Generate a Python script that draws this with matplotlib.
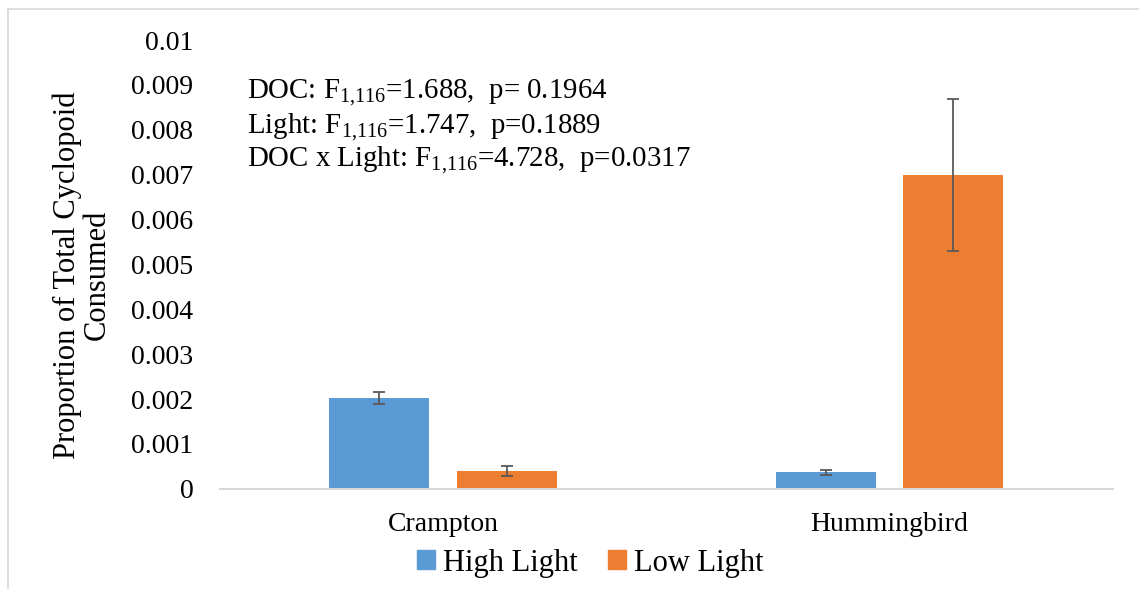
import matplotlib
matplotlib.use("Agg")
import matplotlib.pyplot as plt
from matplotlib.lines import Line2D
from matplotlib.patches import Patch
import numpy as np

categories = ["Crampton", "Hummingbird"]
series_names = ["High Light", "Low Light"]
high_light = [0.00203, 0.00037]
high_light_err = [0.00013, 0.00005]
low_light = [0.00040, 0.00699]
low_light_err = [0.00011, 0.00170]
yticks = [0, 0.001, 0.002, 0.003, 0.004, 0.005, 0.006, 0.007, 0.008, 0.009, 0.01]
ytick_labels = ["0", "0.001", "0.002", "0.003", "0.004", "0.005", "0.006", "0.007", "0.008", "0.009", "0.01"]
stats_lines = [
    r"DOC: F$_{1{,}116}$=1.688,  p= 0.1964",
    r"Light: F$_{1{,}116}$=1.747,  p=0.1889",
    r"DOC x Light: F$_{1{,}116}$=4.728,  p=0.0317",
]

plt.rcParams['font.family'] = ['Liberation Serif', 'DejaVu Serif']
plt.rcParams['mathtext.fontset'] = 'custom'
plt.rcParams['mathtext.rm'] = 'Liberation Serif'
plt.rcParams['mathtext.it'] = 'Liberation Serif:italic'
plt.rcParams['mathtext.default'] = 'regular'

blue = "#5B9BD5"
orange = "#ED7D31"
errc = "#595959"

fig = plt.figure(figsize=(11.39, 5.89), dpi=100)
ax = fig.add_axes([0.193, 0.170, 0.784, 0.762])

x = np.arange(len(categories))
w = 0.224
off = 0.143
ekw = dict(ecolor=errc, elinewidth=1.3, capsize=4.5, capthick=1.3)
ax.bar(x - off, high_light, w, color=blue, yerr=high_light_err, error_kw=ekw, zorder=2)
ax.bar(x + off, low_light, w, color=orange, yerr=low_light_err, error_kw=ekw, zorder=2)

ax.set_xlim(-0.5, 1.5)
ax.set_ylim(0, 0.01)
ax.set_yticks(yticks)
ax.set_yticklabels(ytick_labels, fontsize=20)
ax.set_xticks(x)
ax.set_xticklabels(categories, fontsize=20)
ax.tick_params(axis='x', length=0, pad=17)
ax.tick_params(axis='y', length=0, pad=19)
for s in ['top', 'right', 'left']:
    ax.spines[s].set_visible(False)
ax.spines['bottom'].set_color('#d9d9d9')
ax.spines['bottom'].set_linewidth(1.5)
ax.spines['bottom'].set_zorder(3)

fig.text(82 / 1139, 1 - 275 / 589, "Proportion of Total Cyclopoid\nConsumed", fontsize=22,
         rotation=90, ha='center', va='center', linespacing=1.0, multialignment='center')

ys = [93, 127, 160]
for t, yy in zip(stats_lines, ys):
    fig.text(247 / 1139, 1 - yy / 589, t, fontsize=20.8, va='center', ha='left')

handles = [Patch(color=blue), Patch(color=orange)]
fig.legend(handles, series_names, loc='center', bbox_to_anchor=(590 / 1139, 1 - 563 / 589),
           ncol=2, frameon=False, fontsize=22, handlelength=0.6, handleheight=0.6,
           handletextpad=0.25, columnspacing=1.0)

fig.add_artist(Line2D([8 / 1139, 1], [1 - 9 / 589, 1 - 9 / 589], transform=fig.transFigure, color='#d9d9d9', lw=1.2))
fig.add_artist(Line2D([8 / 1139, 8 / 1139], [0, 1 - 9 / 589], transform=fig.transFigure, color='#d9d9d9', lw=1.2))

fig.savefig("out.png", dpi=100)
